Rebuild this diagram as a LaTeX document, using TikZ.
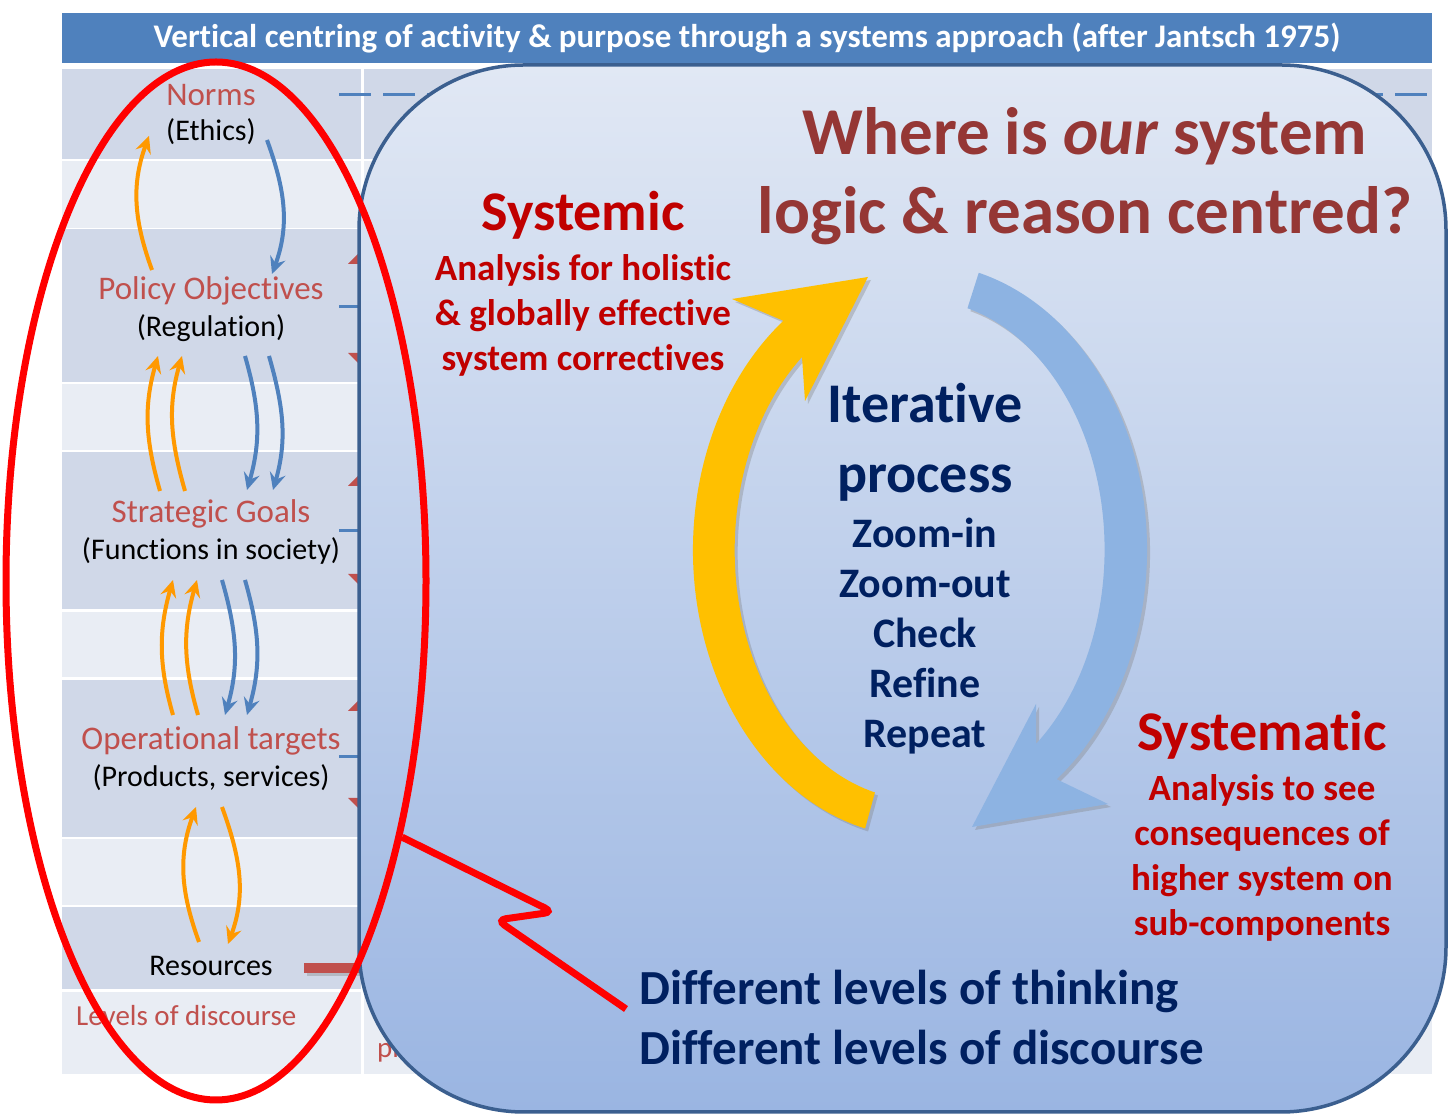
\documentclass[tikz,border=0pt]{standalone}
\usepackage{fontspec}
\setmainfont{Carlito}[Ligatures={NoCommon,NoContextual}, Contextuals=NoAlternate]
\usepackage{tikz}
\usetikzlibrary{arrows.meta,calc,shapes.geometric,shadows}
\definecolor{BarBlue}{HTML}{4F81BD}
\definecolor{RowDark}{HTML}{D0D8E8}
\definecolor{RowLight}{HTML}{E9EDF4}
\definecolor{LevelRed}{HTML}{C0504D}
\definecolor{WhereRed}{HTML}{953735}
\definecolor{SysRed}{HTML}{C00000}
\definecolor{Navy}{HTML}{002060}
\definecolor{ArrOrange}{HTML}{FF9900}
\definecolor{BigYellow}{HTML}{FFC000}
\definecolor{BigBlue}{HTML}{8DB3E2}
\definecolor{BoxEdge}{HTML}{3B5F8F}
\definecolor{BoxTop}{HTML}{E1E8F4}
\definecolor{BoxBottom}{HTML}{9AB5E2}
\newcommand{\fsz}[2]{\fontsize{#1}{#2}\selectfont}

\begin{document}
\begin{tikzpicture}[x=1pt, y=1pt,
  lvl/.style={text=LevelRed, font=\fsz{33}{40}, inner sep=0pt},
  sublbl/.style={text=black, font=\fsz{30}{36}, inner sep=0pt},
  upar/.style={draw=ArrOrange, line width=4pt, -{Stealth[length=17pt,width=16pt,inset=6pt]}},
  dnar/.style={draw=BarBlue, line width=4pt, -{Stealth[length=17pt,width=16pt,inset=6pt]}},
  bigtxt/.style={font=\bfseries\fsz{56}{70}, align=center},
  desc/.style={font=\bfseries\fsz{37}{45}, text=SysRed, align=center},
  shade/.style={drop shadow={shadow xshift=3pt, shadow yshift=-3pt, opacity=0.35}}
]
\useasboundingbox (0,0) rectangle (1452,1116);
\fill[white] (0,0) rectangle (1452,1116);

% table behind
\fill[BarBlue] (62,1053) rectangle (1432,1103);
\node[font=\bfseries\fsz{33}{38}, text=white] (ttl) at (747,1078)
  {Vertical centring of activity \& purpose through a systems approach (after Jantsch 1975)};
\foreach \ya/\yb/\rc in {957/1047/RowDark, 888/955/RowLight, 734/887/RowDark, 666/732/RowLight,
  507/664/RowDark, 439/504/RowLight, 279/436/RowDark, 211/277/RowLight, 127/209/RowDark, 42/124/RowLight}{
  \fill[\rc] (62,\ya) rectangle (361,\yb);
  \fill[\rc] (364,\ya) rectangle (1432,\yb);
}
\draw[BarBlue, line width=3pt, dash pattern=on 32pt off 12pt] (339,1021) -- (1432,1021);
\foreach \ty in {809,585,359} \draw[BarBlue, line width=3pt] (339,\ty) -- (361,\ty);
\foreach \ty in {852,630,405} \fill[LevelRed] (348,\ty) -- (376,\ty) -- (362,\ty+14) -- cycle;
\foreach \ty in {763,542,318} \fill[LevelRed] (348,\ty) -- (376,\ty) -- (362,\ty-14) -- cycle;
\fill[LevelRed, shade] (304,143) rectangle (362,153);
\node[anchor=base west, text=LevelRed, font=\fsz{29}{35}, inner sep=0pt] (plc) at (377,58) {pl};

% levels
\node[lvl] (nor) at (211,1021) {Norms};
\node[sublbl] (eth) at (211,984) {(Ethics)};
\node[lvl] (pol) at (211,825) {Policy Objectives};
\node[sublbl] (reg) at (211,788) {(Regulation)};
\node[lvl] (str) at (211,602) {Strategic Goals};
\node[sublbl] (fun) at (211,565) {(Functions in society)};
\node[lvl] (ope) at (211,375) {Operational targets};
\node[sublbl] (pro) at (211,338) {(Products, services)};
\node[sublbl] (res) at (211,150) {Resources};
\node[lvl, font=\fsz{29}{35}, anchor=west] (lod) at (76,100) {Levels of discourse};

\draw[upar] ($(pol)+(-59,21)$) to[out=110,in=-110] ($(eth)+(-62,-4)$);
\draw[dnar] ($(eth)+(56,-8)$) to[out=-70,in=70] ($(pol)+(61,17)$);
\foreach \dx/\ex in {-51/-53, -26/-29}
  \draw[upar] ($(str)+(\dx,23)$) to[out=106,in=-106] ($(reg)+(\ex,-28)$);
\foreach \dx/\ex in {34/36, 58/62}
  \draw[dnar] ($(reg)+(\dx,-28)$) to[out=-74,in=74] ($(str)+(\ex,24)$);
\foreach \dx/\ex in {-38/-38, -13/-14}
  \draw[upar] ($(ope)+(\dx,26)$) to[out=106,in=-106] ($(fun)+(\ex,-29)$);
\foreach \dx/\ex in {11/14, 34/36}
  \draw[dnar] ($(fun)+(\dx,-29)$) to[out=-74,in=74] ($(ope)+(\ex,26)$);
\draw[upar] ($(res)+(-12,24)$) to[out=110,in=-110] ($(pro)+(-15,-29)$);
\draw[upar] ($(pro)+(11,-29)$) to[out=-70,in=70] ($(res)+(17,22)$);

% front panel
\node[draw=BoxEdge, line width=3.5pt, rounded corners=165pt, top color=BoxTop, bottom color=BoxBottom,
  minimum width=1087pt, minimum height=1047pt, inner sep=0pt] (frame) at (902.5,527.5) {};

\fill[BigYellow, shade] (920,566) ++(256:227pt and 287pt)
  arc[start angle=256, end angle=127, x radius=227pt, y radius=287pt]
  -- (732,817) -- (868,839) -- (805,715) -- (802,759)
  arc[start angle=129.5, end angle=256, x radius=185pt, y radius=250pt] -- cycle;
\fill[BigBlue, shade] (920,566) ++(75:227pt and 287pt)
  arc[start angle=75, end angle=-53, x radius=227pt, y radius=287pt]
  -- (1108,312) -- (972,289) -- (1036,412) -- (1036,372)
  arc[start angle=-51, end angle=75, x radius=185pt, y radius=250pt] -- cycle;

\node[font=\bfseries\fsz{67}{79}, text=WhereRed, align=center] (where) at (1085,940)
  {Where is \textit{our} system\\logic \& reason centred?};
\node[bigtxt, text=SysRed, font=\bfseries\fsz{56}{66}] (sysc) at (583,901) {Systemic};
\node[desc] (syscd) at (583,801) {Analysis for holistic\\\& globally effective\\system correctives};
\node[bigtxt, text=Navy] (iter) at (925,674) {Iterative\\process};
\node[font=\bfseries\fsz{42}{50}, text=Navy, align=center] (steps) at (925,480)
  {Zoom-in\\Zoom-out\\Check\\Refine\\Repeat};
\node[bigtxt, text=SysRed, font=\bfseries\fsz{56}{66}] (sysm) at (1262,381) {Systematic};
\node[desc] (sysmd) at (1262,258) {Analysis to see\\consequences of\\higher system on\\sub-components};
\node[font=\bfseries\fsz{49}{60}, text=Navy, align=left, anchor=west] (difl) at (636,99)
  {Different levels of thinking\\Different levels of discourse};

% red callout
\node[draw=red, line width=7pt, ellipse, minimum width=420pt, minimum height=1038pt, inner sep=0pt] (ring) at (216,535) {};
\draw[red, line width=7pt, rounded corners=9pt] (ring.-54) -- (553,204) -- (497,196) -- ($(difl.west)+(-10,8)$);
\end{tikzpicture}
\end{document}
